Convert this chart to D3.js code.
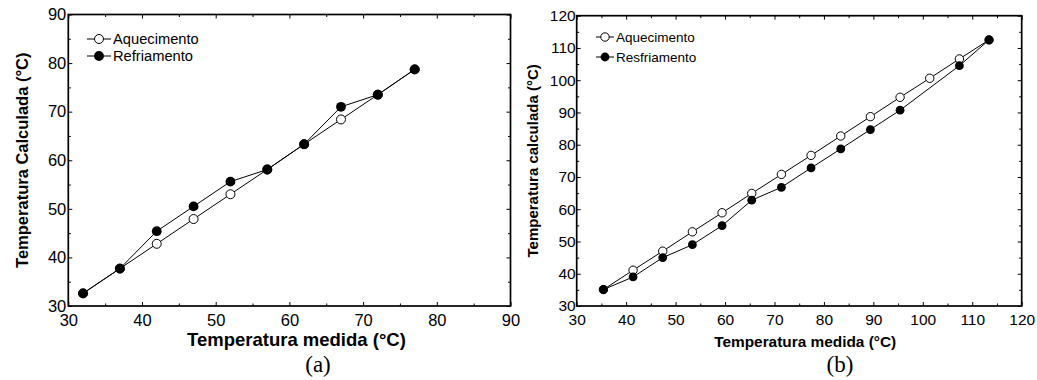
<!DOCTYPE html>
<html>
<head>
<meta charset="utf-8">
<script src="https://cdn.jsdelivr.net/npm/d3@7"></script>
<style>
  body { margin: 0; background: #fff; }
  svg { display: block; }
</style>
</head>
<body>
<svg id="chart" width="1037" height="380"></svg>
<script>
// Panel (a)
const aMeasured = [32, 37, 42, 47, 52, 57, 62, 67, 72, 77];
const aHeating = [32.6, 37.7, 42.8, 47.9, 53.0, 58.1, 63.3, 68.4, 73.5, 78.7];
const aCoolingX = [32, 37, 42, 47, 52, 57, 62, 67, 72, 77];
const aCooling = [32.6, 37.7, 45.4, 50.5, 55.6, 58.1, 63.3, 71.0, 73.5, 78.7];
const aTicks = [30, 40, 50, 60, 70, 80, 90];

// Panel (b)
const bMeasured = [35.4, 41.4, 47.4, 53.4, 59.4, 65.4, 71.4, 77.4, 83.4, 89.4, 95.4, 101.4, 107.4, 113.4];
const bHeating = [35.1, 41.1, 47.0, 53.0, 58.9, 64.9, 70.8, 76.7, 82.7, 88.7, 94.7, 100.6, 106.6, 112.5];
const bCoolingX = [35.4, 41.4, 47.4, 53.4, 59.4, 65.4, 71.4, 77.4, 83.4, 89.4, 95.4, 107.4, 113.4];
const bCooling = [35.1, 39.0, 45.0, 49.0, 54.9, 62.8, 66.8, 72.8, 78.7, 84.7, 90.7, 104.5, 112.5];
const bTicksX = [30, 40, 50, 60, 70, 80, 90, 100, 110, 120];
const bTicksY = [30, 40, 50, 60, 70, 80, 90, 100, 110, 120];

const svg = d3.select('#chart');
const font = '"Liberation Sans", Arial, sans-serif';

function minorTicks(major) {
  const out = [];
  for (let i = 0; i < major.length - 1; i++) out.push((major[i] + major[i + 1]) / 2);
  return out;
}

function drawPanel(p) {
  const w = p.right - p.left;
  const h = p.bottom - p.top;
  const g = svg.append('g').attr('transform', `translate(${p.left},${p.top})`);

  const x = d3.scaleLinear().domain(p.xDomain).range([0, w]);
  const y = d3.scaleLinear().domain(p.yDomain).range([h, 0]);

  // major + minor ticks on all four sides, pointing inward
  const sides = [
    { axis: d3.axisBottom(x), t: `translate(0,${h})`, major: p.xTicks, labels: true, pad: p.xPad },
    { axis: d3.axisTop(x), t: 'translate(0,0)', major: p.xTicks, labels: false, pad: 3 },
    { axis: d3.axisLeft(y), t: 'translate(0,0)', major: p.yTicks, labels: true, pad: p.yPad },
    { axis: d3.axisRight(y), t: `translate(${w},0)`, major: p.yTicks, labels: false, pad: 3 }
  ];
  sides.forEach(s => {
    const ag = g.append('g').attr('transform', s.t)
      .call(s.axis.tickValues(s.major).tickSize(-4).tickSizeOuter(0).tickPadding(s.pad)
        .tickFormat(s.labels ? d3.format('d') : ''));
    ag.select('.domain').remove();
    ag.selectAll('text').style('font-size', p.tickFont + 'px').style('font-family', font).attr('fill', '#000');
    const mg = g.append('g').attr('transform', s.t)
      .call(s.axis.tickValues(minorTicks(s.major)).tickSize(-2.5).tickSizeOuter(0).tickFormat(''));
    mg.select('.domain').remove();
  });

  // frame
  g.append('rect')
    .attr('width', w).attr('height', h)
    .attr('fill', 'none').attr('stroke', '#000').attr('stroke-width', 1.7);

  const line = d3.line().x(d => x(d[0])).y(d => y(d[1]));

  const heat = p.hx.map((v, i) => [v, p.hy[i]]);
  const cool = p.cx.map((v, i) => [v, p.cy[i]]);

  g.append('path').datum(heat).attr('fill', 'none').attr('stroke', '#000').attr('stroke-width', 1).attr('d', line);
  g.append('path').datum(cool).attr('fill', 'none').attr('stroke', '#000').attr('stroke-width', 1).attr('d', line);

  g.selectAll('circle.heat').data(heat).enter().append('circle')
    .attr('cx', d => x(d[0])).attr('cy', d => y(d[1])).attr('r', p.openR)
    .attr('fill', '#fff').attr('stroke', '#000').attr('stroke-width', 1);
  g.selectAll('circle.cool').data(cool).enter().append('circle')
    .attr('cx', d => x(d[0])).attr('cy', d => y(d[1])).attr('r', p.fillR)
    .attr('fill', '#000');

  // legend
  const lg = svg.append('g').attr('transform', `translate(${p.legend[0]},${p.legend[1]})`);
  p.legendLabels.forEach((lab, i) => {
    const yy = i * p.legendGap;
    lg.append('line').attr('x1', 0).attr('x2', p.legendLine).attr('y1', yy).attr('y2', yy)
      .attr('stroke', '#000').attr('stroke-width', 1);
    lg.append('circle').attr('cx', p.legendLine / 2).attr('cy', yy).attr('r', i === 0 ? p.openR : p.fillR)
      .attr('fill', i === 0 ? '#fff' : '#000').attr('stroke', '#000').attr('stroke-width', i === 0 ? 1 : 0);
    lg.append('text').attr('x', p.legendLine + 2).attr('y', yy).attr('dy', '0.35em')
      .style('font-family', font).style('font-size', p.legendFont + 'px').text(lab);
  });

  // axis titles
  svg.append('text')
    .attr('x', p.left + w / 2 + p.xTitleShift).attr('y', p.xTitleY)
    .attr('text-anchor', 'middle')
    .style('font-family', font).style('font-weight', 'bold').style('font-size', p.xTitleFont + 'px')
    .text(p.xTitle);
  svg.append('text')
    .attr('transform', `translate(${p.yTitleX},${p.top + h / 2}) rotate(-90)`)
    .attr('text-anchor', 'middle')
    .style('font-family', font).style('font-weight', 'bold').style('font-size', p.yTitleFont + 'px')
    .text(p.yTitle);

  // panel letter
  svg.append('text')
    .attr('x', p.letterX).attr('y', 372)
    .attr('text-anchor', 'middle')
    .style('font-family', '"Liberation Serif", "Times New Roman", serif').style('font-size', '23px')
    .text(p.letter);
}

drawPanel({
  left: 68.3, right: 510.5, top: 14.5, bottom: 306,
  xDomain: [30, 90], yDomain: [30, 90],
  xTicks: aTicks, yTicks: aTicks,
  hx: aMeasured, hy: aHeating, cx: aCoolingX, cy: aCooling,
  openR: 4.5, fillR: 4.9,
  tickFont: 16.5, xPad: 8.5, yPad: 2,
  legendFont: 14.7, legendGap: 17, legendLine: 24,
  legend: [87, 39], legendLabels: ['Aquecimento', 'Refriamento'],
  xTitle: 'Temperatura medida (°C)', xTitleFont: 18.5, xTitleY: 346, xTitleShift: 7,
  yTitle: 'Temperatura Calculada (°C)', yTitleFont: 16.5, yTitleX: 28,
  letter: '(a)', letterX: 318
});

drawPanel({
  left: 576.7, right: 1021.7, top: 15.7, bottom: 306,
  xDomain: [30, 120], yDomain: [30, 120],
  xTicks: bTicksX, yTicks: bTicksY,
  hx: bMeasured, hy: bHeating, cx: bCoolingX, cy: bCooling,
  openR: 4.2, fillR: 4.4,
  tickFont: 15.5, xPad: 8, yPad: 1,
  legendFont: 13.5, legendGap: 20, legendLine: 18,
  legend: [596, 37], legendLabels: ['Aquecimento', 'Resfriamento'],
  xTitle: 'Temperatura medida (°C)', xTitleFont: 15.4, xTitleY: 347, xTitleShift: 6,
  yTitle: 'Temperatura calculada (°C)', yTitleFont: 15, yTitleX: 538,
  letter: '(b)', letterX: 840
});
</script>
</body>
</html>
